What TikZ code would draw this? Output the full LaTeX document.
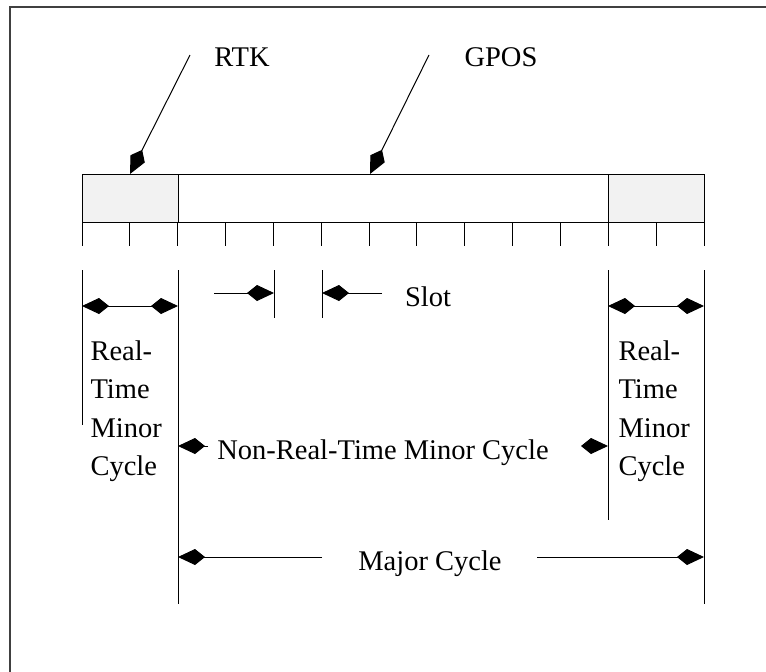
\documentclass[tikz,border=0pt]{standalone}
\usepackage{fontspec}
\setmainfont{Liberation Serif}
\usetikzlibrary{arrows.meta}

\begin{document}
\begin{tikzpicture}[x=1pt, y=-1pt, line width=1pt,
    lbl/.style={inner sep=0pt, font=\fontsize{28.5}{38.5}\selectfont},
    tip/.style={-{Kite[length=27pt, width=16pt, inset=10pt]}},
    twotip/.style={{Kite[length=27pt, width=16pt, inset=10pt]}-{Kite[length=27pt, width=16pt, inset=10pt]}}]
                \useasboundingbox (0,0) rectangle (766,672);
                \draw[line width=1.5pt, black!75] (10,7) rectangle (800,700);
                % the cycle bar
                \filldraw[fill=gray!10] (82,174) rectangle (178,222);
                \draw (178,174) rectangle (608,222);
                \filldraw[fill=gray!10] (608,174) rectangle (704,222);
                \foreach \k in {0,...,13}
                    \draw (82+47.85*\k,222) -- (82+47.85*\k,246);
                % labels
                \node[lbl, anchor=base] (rtk) at (242,66.7) {RTK};
                \node[lbl, anchor=base] (gpos) at (501,66.7) {GPOS};
                \node[lbl, anchor=base] (slot) at (428,306) {Slot};
                \node[lbl, anchor=base] (nrt) at (383,459) {Non-Real-Time Minor Cycle};
                \node[lbl, anchor=base] (major) at (430,570) {Major Cycle};
                \node[lbl, align=left, anchor=west] (rtleft) at (90,411) {Real-\\Time\\Minor\\Cycle};
                \node[lbl, align=left, anchor=west] (rtright) at (618,411) {Real-\\Time\\Minor\\Cycle};
                % pointers
                \coordinate (rtkfrom) at (190,55);
                \coordinate (rtkto) at (130,174);
                \coordinate (gposfrom) at (429,55);
                \coordinate (gposto) at (370,174);
                \draw[tip] (rtkfrom) -- (rtkto);
                \draw[tip] (gposfrom) -- (gposto);
                % extension lines
                \draw (82,270) -- (82,425);
                \draw (178,270) -- (178,604);
                \draw (274,270) -- (274,318);
                \draw (322,270) -- (322,318);
                \draw (608,270) -- (608,520);
                \draw (704,270) -- (704,604);
                % dimension arrows
                \coordinate (rtl1) at (82,306);
                \coordinate (rtl2) at (178,306);
                \coordinate (rtr1) at (608,306);
                \coordinate (rtr2) at (704,306);
                \coordinate (sl1) at (214,293);
                \coordinate (sl2) at (274,293);
                \coordinate (sr1) at (382,293);
                \coordinate (sr2) at (322,293);
                \coordinate (nl1) at (208,446);
                \coordinate (nl2) at (178,446);
                \coordinate (nr1) at (582,446);
                \coordinate (nr2) at (608,446);
                \coordinate (ml1) at (322,557);
                \coordinate (ml2) at (178,557);
                \coordinate (mr1) at (537,557);
                \coordinate (mr2) at (704,557);
                \draw[twotip] (rtl1) -- (rtl2);
                \draw[twotip] (rtr1) -- (rtr2);
                \draw[tip] (sl1) -- (sl2);
                \draw[tip] (sr1) -- (sr2);
                \draw[tip] (nl1) -- (nl2);
                \draw[tip] (nr1) -- (nr2);
                \draw[tip] (ml1) -- (ml2);
                \draw[tip] (mr1) -- (mr2);
\end{tikzpicture}
\end{document}
